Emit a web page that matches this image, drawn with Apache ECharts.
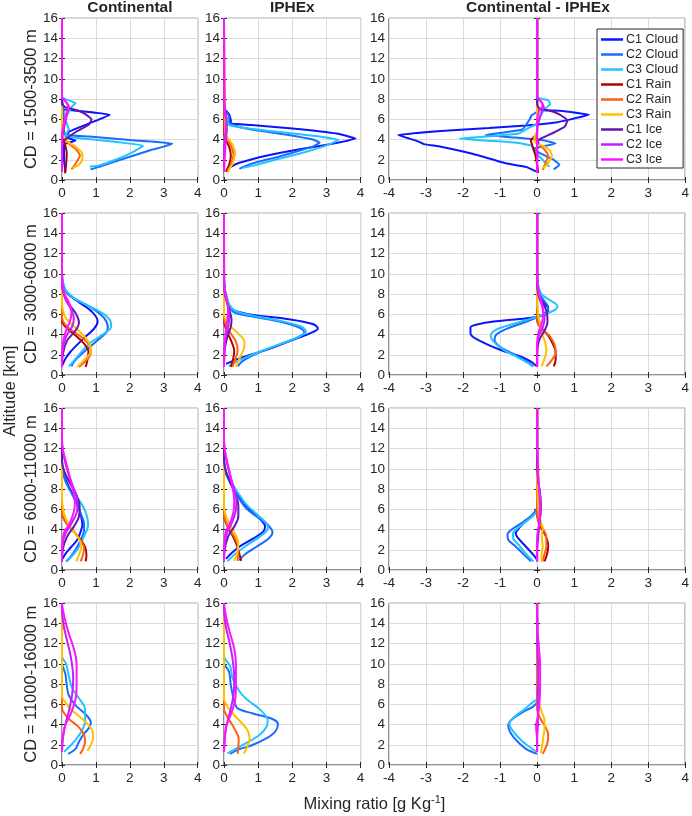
<!DOCTYPE html>
<html>
<head>
<meta charset="utf-8">
<script src="https://cdn.jsdelivr.net/npm/echarts@6.0.0/dist/echarts.min.js"></script>
<style>
html, body { margin: 0; padding: 0; background: #fff; }
#chart { width: 692px; height: 816px; }
</style>
</head>
<body>
<div id="chart"></div>
<script>
// series order in every panel: C1 Cloud, C2 Cloud, C3 Cloud, C1 Rain, C2 Rain, C3 Rain, C1 Ice, C2 Ice, C3 Ice
// each profile is a list of [mixing ratio g/kg, altitude km]
const seriesNames = ['C1 Cloud', 'C2 Cloud', 'C3 Cloud', 'C1 Rain', 'C2 Rain', 'C3 Rain', 'C1 Ice', 'C2 Ice', 'C3 Ice'];
const columnTitles = ['Continental', 'IPHEx', 'Continental - IPHEx'];
const rowLabels = ['CD = 1500-3500 m', 'CD = 3000-6000 m', 'CD = 6000-11000 m', 'CD = 11000-16000 m'];
const xTicksPos = [0, 1, 2, 3, 4];
const xTicksDiff = [-4, -3, -2, -1, 0, 1, 2, 3, 4];
const yTicks = [0, 2, 4, 6, 8, 10, 12, 14, 16];

// ---- CD = 1500-3500 m ----
const contCD1 = [
  [[0.1,0.8],[0.06,2],[0.06,3.5],[0.4,3.9],[0.12,4.25],[0.22,4.8],[0.8,5.6],[1.41,6.45],[0.6,6.8],[0.04,7.0],[0,8],[0,16]],
  [[0.84,1.05],[1.1,1.3],[1.4,1.65],[2.0,2.3],[2.6,2.95],[3.0,3.3],[3.25,3.62],[2.0,3.95],[0.8,4.3],[0.1,4.45],[0.05,5],[0.05,7],[0,8],[0,16]],
  [[0.82,1.32],[1.1,1.45],[1.5,1.9],[2.0,2.6],[2.39,3.4],[1.5,3.8],[0.6,4.1],[0.1,4.4],[0.2,5],[0.1,6],[0.3,7.3],[0.4,7.6],[0.1,8],[0,8.2],[0,16]],
  [[0.09,0.65],[0.12,1.5],[0.14,2.6],[0.1,3.4],[0.03,4.2],[0,5],[0,16]],
  [[0.28,1.05],[0.4,1.6],[0.53,2.45],[0.4,3.1],[0.19,3.6],[0.04,4.3],[0,5],[0,16]],
  [[0.31,1.15],[0.5,1.5],[0.6,2.0],[0.6,2.6],[0.4,3.3],[0.2,3.7],[0.05,4.3],[0,5],[0,16]],
  [[0,0.8],[0,3.5],[0.09,4.0],[0.43,4.8],[0.8,5.5],[0.87,6.0],[0.7,6.5],[0.45,6.9],[0.1,7.2],[0,7.5],[0,16]],
  [[0,0.8],[0,4],[0.05,5],[0.15,6.5],[0.2,7.2],[0.1,7.8],[0,8.2],[0,16]],
  [[0,0.8],[0,4.5],[0.05,5.5],[0.12,6.5],[0.2,7.3],[0.1,7.8],[0,8.1],[0,16]]
];
const iphexCD1 = [
  [[0.06,0.95],[0.2,1.3],[0.45,1.7],[1.3,2.45],[2.3,3.1],[3.2,3.6],[3.85,4.1],[3.3,4.6],[2.0,5.1],[0.8,5.45],[0.2,5.6],[0.2,5.9],[0.15,6.5],[0.05,6.9],[0,7.2],[0,16]],
  [[0.45,1.1],[0.6,1.35],[1.0,1.8],[1.6,2.3],[2.2,2.9],[2.6,3.3],[2.8,3.7],[2.6,4.0],[1.8,4.5],[0.8,5.0],[0.3,5.4],[0.15,5.7],[0.15,6.3],[0.05,6.8],[0,7.2],[0,16]],
  [[0.55,1.2],[0.9,1.45],[1.5,2.0],[2.2,2.6],[2.9,3.3],[3.35,3.95],[2.8,4.3],[1.5,4.8],[0.5,5.2],[0.1,5.5],[0.1,6],[0.05,6.5],[0,7],[0,16]],
  [[0.06,0.8],[0.15,1.5],[0.2,2.4],[0.15,3.3],[0.05,4.0],[0,4.6],[0,16]],
  [[0.1,0.8],[0.2,1.5],[0.28,2.5],[0.22,3.3],[0.1,4.0],[0.02,4.6],[0,16]],
  [[0.12,0.9],[0.25,1.6],[0.33,2.7],[0.25,3.5],[0.12,4.1],[0.03,4.6],[0,16]],
  [[0,0.8],[0,3],[0.05,4],[0.08,5],[0.06,6],[0.03,7],[0,7.5],[0,16]],
  [[0,0.8],[0,3],[0.04,4.5],[0.06,5.5],[0.05,6.5],[0,7.5],[0,16]],
  [[0,0.8],[0.02,2],[0.05,4],[0.05,6],[0.02,7],[0,16]]
];
const diffCD1 = [
  [[0,0.8],[-0.3,1.3],[-0.85,1.65],[-1.75,2.6],[-2.6,3.3],[-3.05,3.55],[-3.2,3.8],[-3.5,4.15],[-3.75,4.45],[-2.6,4.85],[-1.3,5.15],[-0.3,5.4],[0.5,5.7],[0.9,6.0],[1.4,6.45],[0.6,6.85],[0,7.0],[0,16]],
  [[0.45,1.05],[0.6,1.5],[0.45,2.0],[0.1,2.6],[-0.1,3.1],[0.5,3.6],[0.2,3.9],[-0.6,4.2],[-1.4,4.45],[-0.9,4.7],[-0.4,5.0],[-0.3,5.45],[-0.2,6.0],[-0.15,6.4],[0.05,6.9],[0,7.2],[0,16]],
  [[0.33,1.3],[0.15,2.0],[-0.08,2.8],[-0.15,3.4],[-0.6,3.7],[-1.4,3.9],[-2.1,4.1],[-1.2,4.35],[-0.5,4.6],[-0.25,5.1],[0,5.6],[0.06,6.1],[0.2,7.0],[0.35,7.5],[0.3,7.9],[0.05,8.1],[0,8.3],[0,16]],
  [[0.03,0.7],[0,1.5],[-0.05,2.5],[-0.12,3.3],[-0.17,3.9],[-0.05,4.4],[0,4.8],[0,16]],
  [[0.15,1.0],[0.22,1.6],[0.3,2.4],[0.2,3.0],[0.05,3.6],[-0.05,4.1],[0,4.6],[0,16]],
  [[0.17,1.15],[0.3,1.7],[0.4,2.4],[0.35,2.9],[0.15,3.4],[-0.05,3.7],[-0.08,4.2],[0,4.7],[0,16]],
  [[0,0.8],[0,3.5],[0.05,4.0],[0.4,4.6],[0.75,5.3],[0.82,5.9],[0.6,6.5],[0.35,6.85],[0.05,7.1],[0,7.5],[0,16]],
  [[0,0.8],[0,5],[0.1,6.5],[0.18,7.2],[0.1,7.8],[0,8.2],[0,16]],
  [[0,0.7],[0,6],[0.05,6.8],[0.15,7.4],[0.1,7.8],[0,8.1],[0,16]]
];

// ---- CD = 3000-6000 m ----
const contCD2 = [
  [[0.02,1.0],[0.1,1.6],[0.25,2.3],[0.6,3.5],[0.95,4.6],[1.05,5.3],[0.9,6.2],[0.5,7.2],[0.15,8.1],[0.03,9],[0,10],[0,16]],
  [[0.28,0.85],[0.35,1.3],[0.55,2.0],[1.0,3.3],[1.3,4.2],[1.35,4.7],[1.25,5.6],[0.9,6.6],[0.45,7.4],[0.15,8.2],[0.03,9],[0,10],[0,16]],
  [[0.2,0.85],[0.3,1.2],[0.5,2.0],[0.8,3.1],[1.2,4.0],[1.45,4.8],[1.42,5.4],[1.2,6.1],[0.75,6.9],[0.35,7.6],[0.12,8.3],[0.03,9.2],[0,10],[0,16]],
  [[0.7,0.8],[0.75,1.5],[0.78,2.3],[0.65,3.1],[0.4,3.9],[0.15,4.6],[0.03,5.1],[0,5.6],[0,16]],
  [[0.5,0.8],[0.7,1.4],[0.85,2.2],[0.82,2.9],[0.55,3.8],[0.25,4.5],[0.07,5.1],[0,5.7],[0,16]],
  [[0.45,0.8],[0.6,1.3],[0.85,2.4],[0.8,3.2],[0.55,4.2],[0.3,5.0],[0.1,5.7],[0.03,6.4],[0,7],[0,16]],
  [[0,0.8],[0.02,2],[0.15,3.4],[0.4,4.4],[0.5,5.2],[0.42,6.0],[0.25,6.8],[0.1,7.6],[0.02,8.5],[0,9.5],[0,16]],
  [[0,0.8],[0.02,2.5],[0.12,3.8],[0.3,4.8],[0.35,5.6],[0.25,6.6],[0.1,7.5],[0.02,8.5],[0,9.5],[0,16]],
  [[0,0.8],[0.02,3],[0.1,4.2],[0.25,5.5],[0.28,6.3],[0.2,7.2],[0.08,8.0],[0.02,9],[0,10],[0,16]]
];
const iphexCD2 = [
  [[0.06,1.1],[0.45,1.65],[1.25,2.5],[2.0,3.45],[2.5,4.1],[2.75,4.6],[2.6,5.05],[1.85,5.55],[0.85,5.95],[0.3,6.4],[0.15,6.9],[0.08,7.6],[0.02,8.5],[0,9.5],[0,16]],
  [[0.4,0.85],[0.55,1.4],[1.0,2.2],[1.7,3.1],[2.2,3.8],[2.35,4.2],[2.2,4.7],[1.6,5.3],[0.8,5.8],[0.3,6.2],[0.15,6.8],[0.08,7.5],[0.02,8.5],[0,9.5],[0,16]],
  [[0.15,0.85],[0.35,1.3],[0.9,2.1],[1.6,3.0],[2.2,3.8],[2.4,4.3],[2.25,4.8],[1.6,5.4],[0.8,5.9],[0.3,6.4],[0.15,7.0],[0.08,7.8],[0.02,8.6],[0,9.5],[0,16]],
  [[0.2,0.8],[0.27,1.6],[0.3,2.4],[0.22,3.3],[0.1,4.2],[0.02,5],[0,5.5],[0,16]],
  [[0.25,0.8],[0.32,1.5],[0.4,2.4],[0.35,3.3],[0.18,4.2],[0.05,5],[0,5.6],[0,16]],
  [[0.35,0.8],[0.45,1.6],[0.58,2.6],[0.6,3.3],[0.45,4.0],[0.22,4.7],[0.06,5.4],[0,6],[0,16]],
  [[0,0.8],[0.02,2.5],[0.1,3.8],[0.2,4.8],[0.22,5.5],[0.15,6.5],[0.06,7.5],[0.01,8.5],[0,16]],
  [[0,0.8],[0.02,3],[0.08,4.2],[0.14,5.2],[0.15,6.0],[0.1,7.0],[0.03,8],[0,9],[0,16]],
  [[0,0.8],[0.02,3],[0.06,4.5],[0.1,5.5],[0.12,6.5],[0.08,7.5],[0.02,8.5],[0,9.5],[0,16]]
];
const diffCD2 = [
  [[0,0.85],[-0.2,1.4],[-0.5,1.9],[-1.0,2.5],[-1.5,3.3],[-1.8,4.1],[-1.8,4.7],[-1.5,5.1],[-0.9,5.4],[-0.2,5.65],[0.25,6.0],[0.3,6.5],[0.2,7.1],[0.07,7.8],[0,8.6],[0,16]],
  [[-0.1,0.85],[-0.3,1.4],[-0.6,2.0],[-1.0,2.8],[-1.15,3.5],[-1.1,4.0],[-0.8,4.6],[-0.35,5.2],[0,5.7],[0.25,6.2],[0.3,6.7],[0.2,7.3],[0.07,8],[0,9],[0,16]],
  [[-0.12,0.85],[-0.3,1.3],[-0.55,1.8],[-0.95,2.6],[-1.2,3.4],[-1.25,3.9],[-1.1,4.5],[-0.6,5.1],[-0.15,5.6],[0.2,6.0],[0.5,6.5],[0.55,6.8],[0.35,7.4],[0.12,8.0],[0.02,9],[0,10],[0,16]],
  [[0.45,0.85],[0.5,1.5],[0.5,2.3],[0.42,3.1],[0.3,3.9],[0.12,4.6],[0.02,5.1],[0,5.6],[0,16]],
  [[0.25,0.85],[0.38,1.4],[0.5,2.2],[0.48,2.9],[0.35,3.8],[0.15,4.5],[0.03,5.1],[0,5.7],[0,16]],
  [[0.12,0.85],[0.18,1.4],[0.25,2.4],[0.22,3.2],[0.12,4.2],[0.08,5.0],[0.04,5.7],[0.02,6.4],[0,7],[0,16]],
  [[0,0.8],[0,2],[0.05,3.4],[0.2,4.4],[0.28,5.2],[0.27,6.0],[0.2,6.8],[0.06,7.6],[0.01,8.5],[0,9.5],[0,16]],
  [[0,0.8],[0,2.5],[0.04,3.8],[0.16,4.8],[0.2,5.6],[0.15,6.6],[0.07,7.5],[0.02,8.5],[0,9.5],[0,16]],
  [[0,0.8],[0,3],[0.04,4.2],[0.15,5.5],[0.16,6.3],[0.12,7.2],[0.06,8.0],[0.02,9],[0,10],[0,16]]
];

// ---- CD = 6000-11000 m ----
const contCD3 = [
  [[0.02,1.1],[0.1,1.6],[0.25,2.2],[0.45,3.0],[0.55,3.8],[0.6,4.5],[0.55,5.5],[0.45,6.6],[0.3,7.6],[0.15,8.6],[0.05,9.5],[0,10.5],[0,16]],
  [[0.12,0.85],[0.25,1.3],[0.4,2.0],[0.55,3.0],[0.65,3.9],[0.65,4.6],[0.55,5.6],[0.4,6.8],[0.25,7.8],[0.1,8.8],[0.02,9.8],[0,10.5],[0,16]],
  [[0.14,0.85],[0.3,1.4],[0.45,2.0],[0.63,3.2],[0.77,4.5],[0.72,5.5],[0.6,6.4],[0.43,7.3],[0.25,8.6],[0.1,9.5],[0.02,10.3],[0,11],[0,16]],
  [[0.7,0.85],[0.72,1.5],[0.68,2.3],[0.55,3.0],[0.35,3.8],[0.15,4.6],[0.03,5.2],[0,5.6],[0,16]],
  [[0.55,0.85],[0.62,1.5],[0.65,2.2],[0.55,2.9],[0.38,3.7],[0.15,4.5],[0.03,5.2],[0,5.7],[0,16]],
  [[0.42,0.85],[0.5,1.5],[0.57,2.3],[0.48,3.2],[0.3,4.0],[0.15,4.8],[0.06,5.6],[0.02,6.3],[0,7],[0,16]],
  [[0,0.85],[0.02,2],[0.15,3.3],[0.35,4.3],[0.5,5.3],[0.52,6.3],[0.4,7.6],[0.2,8.8],[0.06,9.8],[0,10.8],[0,16]],
  [[0,0.85],[0.02,2.5],[0.1,3.6],[0.28,4.6],[0.45,6.0],[0.45,7.0],[0.33,8.2],[0.18,9.6],[0.07,11],[0.01,12.3],[0,13],[0,16]],
  [[0,0.85],[0.02,3],[0.08,3.9],[0.2,4.4],[0.35,5.8],[0.38,6.8],[0.3,8.2],[0.2,9.6],[0.1,10.9],[0.02,12.0],[0,12.8],[0,16]]
];
const iphexCD3 = [
  [[0.06,1.1],[0.2,1.6],[0.45,2.3],[0.85,3.1],[1.15,3.8],[1.2,4.3],[1.1,4.9],[0.8,5.8],[0.5,7.0],[0.28,8.2],[0.1,9.3],[0.02,10.2],[0,11],[0,16]],
  [[0.45,0.95],[0.6,1.5],[0.95,2.3],[1.3,3.1],[1.42,3.7],[1.3,4.4],[1.0,5.2],[0.65,6.1],[0.4,7.3],[0.2,8.5],[0.06,9.5],[0,10.5],[0,16]],
  [[0.1,0.85],[0.3,1.5],[0.65,2.4],[1.05,3.3],[1.28,4.1],[1.25,4.6],[1.0,5.4],[0.65,6.5],[0.4,7.7],[0.2,8.8],[0.06,9.8],[0,10.8],[0,16]],
  [[0.5,0.9],[0.45,1.6],[0.38,2.4],[0.28,3.2],[0.15,4.0],[0.04,4.8],[0,5.5],[0,16]],
  [[0.4,0.9],[0.42,1.6],[0.4,2.5],[0.3,3.3],[0.15,4.1],[0.04,4.9],[0,5.5],[0,16]],
  [[0.3,0.9],[0.38,1.6],[0.42,2.6],[0.35,3.4],[0.2,4.3],[0.07,5.2],[0.01,6],[0,6.5],[0,16]],
  [[0,0.85],[0.02,2],[0.12,3.3],[0.3,4.3],[0.42,5.3],[0.42,6.3],[0.32,7.6],[0.17,8.8],[0.05,9.8],[0,10.8],[0,16]],
  [[0,0.85],[0.02,2.5],[0.08,3.6],[0.22,4.6],[0.35,6.0],[0.36,7.0],[0.28,8.2],[0.16,9.6],[0.06,11],[0.01,12.3],[0,13],[0,16]],
  [[0,0.85],[0.02,3],[0.06,3.9],[0.15,4.4],[0.28,5.8],[0.3,6.8],[0.25,8.2],[0.17,9.6],[0.08,10.9],[0.02,12.0],[0,12.8],[0,16]]
];
const diffCD3 = [
  [[0,1.0],[-0.1,1.5],[-0.3,2.3],[-0.5,3.1],[-0.58,3.6],[-0.52,4.0],[-0.35,4.7],[-0.15,5.3],[0,5.9],[0.05,6.5],[0.02,7.5],[0,8.5],[0,16]],
  [[-0.17,0.85],[-0.35,1.5],[-0.6,2.4],[-0.78,3.0],[-0.8,3.5],[-0.65,4.1],[-0.4,4.7],[-0.15,5.4],[-0.02,6.0],[0.05,6.6],[0.05,7.4],[0,8.5],[0,16]],
  [[-0.1,0.85],[-0.3,1.6],[-0.5,2.5],[-0.65,3.2],[-0.65,3.6],[-0.5,4.2],[-0.3,4.8],[-0.1,5.4],[0,5.9],[0.08,6.6],[0.05,7.5],[0,8.5],[0,16]],
  [[0.2,0.85],[0.27,1.6],[0.3,2.4],[0.27,3.0],[0.2,3.6],[0.09,4.3],[0.02,5.0],[0,5.6],[0,16]],
  [[0.15,0.85],[0.2,1.6],[0.25,2.3],[0.25,3.0],[0.23,3.6],[0.1,4.4],[0.02,5.1],[0,5.7],[0,16]],
  [[0.12,0.85],[0.12,1.5],[0.15,2.3],[0.13,3.2],[0.15,4.2],[0.1,4.8],[0.05,5.6],[0.02,6.5],[0.01,8],[0,9],[0,16]],
  [[0,0.85],[0,2],[0.03,3.3],[0.05,4.3],[0.08,5.3],[0.1,6.3],[0.08,7.6],[0.03,8.8],[0.01,9.8],[0,10.8],[0,16]],
  [[0,0.85],[0,2.5],[0.02,3.6],[0.06,4.6],[0.1,6.0],[0.09,7.0],[0.05,8.2],[0.02,9.6],[0.01,11],[0,12.3],[0,16]],
  [[0,0.85],[0,3],[0.02,3.9],[0.05,4.4],[0.07,5.8],[0.08,6.8],[0.05,8.2],[0.03,9.6],[0.02,10.9],[0,12],[0,16]]
];

// ---- CD = 11000-16000 m (no C1 profiles) ----
const contCD4 = [
  [],
  [[0.18,1.1],[0.4,1.6],[0.5,2.3],[0.65,3.1],[0.8,3.7],[0.85,4.2],[0.7,5.0],[0.4,5.9],[0.2,6.9],[0.14,7.9],[0.1,9.0],[0.04,9.6],[0,10],[0,16]],
  [[0.06,1.3],[0.3,2.1],[0.55,3.2],[0.68,4.3],[0.68,5.5],[0.5,6.6],[0.3,7.6],[0.2,8.8],[0.12,10.0],[0.03,10.5],[0,10.8],[0,16]],
  [],
  [[0.53,1.1],[0.62,1.6],[0.68,2.3],[0.65,3.0],[0.48,3.8],[0.22,4.5],[0.05,5.2],[0,5.6],[0,16]],
  [[0.75,1.4],[0.85,2.0],[0.92,2.7],[0.88,3.5],[0.65,4.4],[0.3,5.4],[0.1,6.2],[0,6.8],[0,16]],
  [],
  [[0,1.3],[0.02,2.5],[0.1,4.0],[0.2,5.3],[0.3,7.0],[0.33,8.6],[0.27,10.5],[0.15,12.3],[0.06,13.6],[0.01,14.8],[0,15.5],[0,16]],
  [[0,1.3],[0.02,2.5],[0.08,3.8],[0.25,5.0],[0.4,6.5],[0.43,8.0],[0.43,10.0],[0.35,11.5],[0.2,13.0],[0.08,14.5],[0.02,15.5],[0,16]]
];
const iphexCD4 = [
  [],
  [[0.18,1.1],[0.4,1.5],[0.85,2.0],[1.25,2.65],[1.5,3.3],[1.58,4.0],[1.45,4.5],[0.85,5.1],[0.4,5.6],[0.3,6.3],[0.2,7.9],[0.15,9.2],[0.04,9.8],[0,10.2],[0,16]],
  [[0.1,1.15],[0.45,1.8],[1.05,3.0],[1.25,3.8],[1.28,4.4],[1.05,5.5],[0.7,6.4],[0.45,7.3],[0.25,8.6],[0.18,9.8],[0.05,10.4],[0,10.8],[0,16]],
  [],
  [[0.4,1.1],[0.42,1.8],[0.43,2.6],[0.32,3.5],[0.2,4.2],[0.06,5.0],[0,5.5],[0,16]],
  [[0.58,1.15],[0.68,1.8],[0.75,2.6],[0.68,3.5],[0.45,4.4],[0.2,5.3],[0.06,6.0],[0,6.6],[0,16]],
  [],
  [[0,1.3],[0.02,2.5],[0.08,4.0],[0.18,5.3],[0.28,7.0],[0.3,8.6],[0.25,10.5],[0.15,12.3],[0.06,13.6],[0.01,14.8],[0,15.5],[0,16]],
  [[0,1.3],[0.02,2.5],[0.06,3.8],[0.2,5.0],[0.33,6.5],[0.35,8.0],[0.35,10.0],[0.3,11.5],[0.18,13.0],[0.07,14.5],[0.02,15.5],[0,16]]
];
const diffCD4 = [
  [],
  [[0,1.1],[-0.3,1.6],[-0.55,2.4],[-0.72,3.2],[-0.78,3.9],[-0.68,4.5],[-0.4,5.2],[-0.1,5.8],[0,6.3],[0,16]],
  [[0,1.3],[-0.25,1.9],[-0.5,2.7],[-0.7,3.6],[-0.75,4.1],[-0.6,4.8],[-0.35,5.5],[-0.12,6.2],[0,6.6],[0,16]],
  [],
  [[0.15,1.1],[0.22,1.6],[0.28,2.2],[0.3,3.0],[0.22,3.8],[0.1,4.5],[0.02,5.2],[0,5.6],[0,16]],
  [[0.1,1.2],[0.14,2.0],[0.17,2.8],[0.2,3.6],[0.2,4.4],[0.12,5.3],[0.05,6.2],[0.02,8],[0.02,10],[0.01,12],[0,13],[0,16]],
  [],
  [[0,1.3],[0,2.5],[0.02,4.0],[0.02,5.3],[0.02,7.0],[0.03,8.6],[0.02,10.5],[0,12.3],[0,16]],
  [[0,1.3],[0,2.5],[-0.03,3.8],[0.03,5.0],[0.07,6.5],[0.08,8.0],[0.08,10.0],[0.05,11.5],[0.02,13.0],[0.01,14.5],[0,16]]
];

const panels = [
  [contCD1, iphexCD1, diffCD1],
  [contCD2, iphexCD2, diffCD2],
  [contCD3, iphexCD3, diffCD3],
  [contCD4, iphexCD4, diffCD4]
];

// styling
const lineColors = ['#0a14ff', '#1a6cff', '#22c4ff', '#b00000', '#ff6010', '#ffc000', '#6414b0', '#c020ff', '#ff14ff'];
const FONT = '"Liberation Sans", Arial, Helvetica, sans-serif';
const INK = '#262626';
const colLeft = [62, 224, 389];
const colWidth = [135.7, 136.6, 297.7];
const rowTop = [18.3, 213.3, 408.3, 603.3];
const rowHeight = 161.7;

function buildOption() {
  const grid = [], xAxis = [], yAxis = [], series = [], graphic = [];
  const tickStyle = { show: true, inside: true, length: 3, lineStyle: { color: INK, width: 1 } };
  const labelStyle = { color: INK, fontSize: 13.5, fontFamily: FONT };

  for (let r = 0; r < 4; r++) {
    for (let c = 0; c < 3; c++) {
      const gi = grid.length;
      grid.push({
        left: colLeft[c], top: rowTop[r], width: colWidth[c], height: rowHeight,
        show: true, borderColor: INK, borderWidth: 1, backgroundColor: 'transparent',
        containLabel: false
      });
      const ticks = c === 2 ? xTicksDiff : xTicksPos;
      const xBase = {
        gridIndex: gi, type: 'value', min: ticks[0], max: ticks[ticks.length - 1], interval: 1,
        axisLine: { show: false }, axisTick: tickStyle
      };
      const yBase = {
        gridIndex: gi, type: 'value', min: yTicks[0], max: yTicks[yTicks.length - 1], interval: 2,
        axisLine: { show: false }, axisTick: tickStyle
      };
      const xi = xAxis.length;
      xAxis.push(Object.assign({}, xBase, {
        position: 'bottom',
        axisLabel: Object.assign({ margin: 6 }, labelStyle),
        splitLine: { show: true, lineStyle: { color: '#dcdcdc', width: 1 } }
      }));
      xAxis.push(Object.assign({}, xBase, {
        position: 'top', axisLabel: { show: false }, splitLine: { show: false }
      }));
      const yi = yAxis.length;
      yAxis.push(Object.assign({}, yBase, {
        position: 'left',
        axisLabel: Object.assign({ margin: 4 }, labelStyle),
        splitLine: { show: true, lineStyle: { color: '#dcdcdc', width: 1 } }
      }));
      yAxis.push(Object.assign({}, yBase, {
        position: 'right', axisLabel: { show: false }, splitLine: { show: false }
      }));

      const profiles = panels[r][c];
      profiles.forEach((prof, k) => {
        if (!prof.length) return;
        series.push({
          type: 'line', name: seriesNames[k],
          xAxisIndex: xi, yAxisIndex: yi,
          data: prof,
          showSymbol: false, symbol: 'none',
          smooth: r === 0 ? 0.12 : 0.35,
          lineStyle: { color: lineColors[k], width: 2 },
          itemStyle: { color: lineColors[k] },
          silent: true, animation: false
        });
      });
    }
  }

  columnTitles.forEach((t, c) => {
    graphic.push({
      type: 'text', x: colLeft[c] + colWidth[c] / 2, y: 8,
      style: { text: t, fill: INK, font: 'bold 15.5px ' + FONT, align: 'center', verticalAlign: 'middle' }
    });
  });
  rowLabels.forEach((t, r) => {
    graphic.push({
      type: 'text', x: 31, y: rowTop[r] + rowHeight / 2, rotation: Math.PI / 2,
      style: { text: t, fill: INK, font: '16.5px ' + FONT, align: 'center', verticalAlign: 'middle' }
    });
  });
  graphic.push({
    type: 'text', x: 10, y: 391, rotation: Math.PI / 2,
    style: { text: 'Altitude [km]', fill: INK, font: '16.5px ' + FONT, align: 'center', verticalAlign: 'middle' }
  });
  graphic.push({
    type: 'text', x: 374.5, y: 804,
    style: {
      text: 'Mixing ratio [g Kg{sup|-1}]', fill: INK, font: '16.5px ' + FONT,
      fontSize: 16.5, fontFamily: FONT, lineHeight: 20,
      align: 'center', verticalAlign: 'middle',
      rich: { sup: { fontSize: 11, fontFamily: FONT, fill: INK, verticalAlign: 'top', lineHeight: 11 } }
    }
  });

  return {
    backgroundColor: '#fff',
    animation: false,
    grid, xAxis, yAxis, series, graphic,
    legend: {
      data: seriesNames,
      orient: 'vertical',
      left: 597, top: 29,
      padding: [4, 5, 2, 4],
      itemGap: 2, itemWidth: 22, itemHeight: 2.5,
      icon: 'rect',
      selectedMode: false,
      borderColor: INK, borderWidth: 1, backgroundColor: '#fff',
      textStyle: { color: INK, fontSize: 12.5, fontFamily: FONT, lineHeight: 13, padding: [0, 0, 0, -2] },
      z: 10
    }
  };
}

document.addEventListener('DOMContentLoaded', function () {
  if (typeof echarts === 'undefined') {
    console.error('ECharts not loaded');
    return;
  }
  const chart = echarts.init(document.getElementById('chart'), null, { renderer: 'canvas' });
  chart.setOption(buildOption());
  window.addEventListener('resize', () => chart.resize());
});
</script>
</body>
</html>
